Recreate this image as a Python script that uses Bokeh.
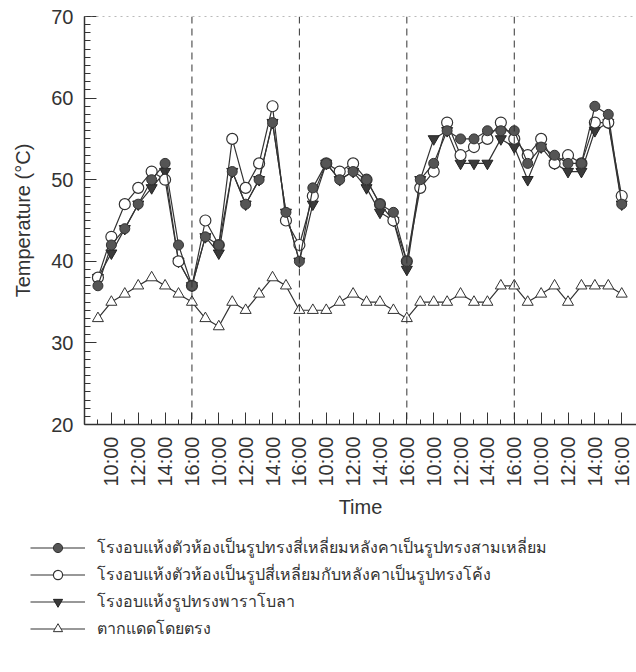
import numpy as np
from bokeh.plotting import figure
from bokeh.layouts import column
from bokeh.models import (FixedTicker, SingleIntervalTicker, Span, Legend,
                          LegendItem, Range1d)
from bokeh.embed import file_html
from bokeh.resources import INLINE

# ---------------- data ----------------
time_labels = ["9:00", "10:00", "11:00", "12:00", "13:00", "14:00", "15:00", "16:00"] * 5

# โรงอบแห้งตัวห้องเป็นรูปทรงสี่เหลี่ยมหลังคาเป็นรูปทรงสามเหลี่ยม (filled circles)
dryer_triangle_roof = [37, 42, 44, 47, 50, 52, 42, 37,
                       43, 42, 51, 47, 50, 57, 46, 40,
                       49, 52, 50, 51, 50, 47, 46, 40,
                       50, 52, 56, 55, 55, 56, 56, 56,
                       52, 54, 53, 52, 52, 59, 58, 47]
# โรงอบแห้งตัวห้องเป็นรูปสี่เหลี่ยมกับหลังคาเป็นรูปทรงโค้ง (open circles)
dryer_curved_roof = [38, 43, 47, 49, 51, 50, 40, 37,
                     45, 42, 55, 49, 52, 59, 45, 42,
                     48, 52, 51, 52, 50, 47, 45, 40,
                     49, 51, 57, 53, 54, 55, 57, 55,
                     53, 55, 52, 53, 52, 57, 57, 48]
# โรงอบแห้งรูปทรงพาราโบลา (filled down triangles)
dryer_parabola = [38, 41, 44, 47, 49, 51, 40, 37,
                  43, 41, 51, 47, 50, 57, 46, 40,
                  47, 52, 50, 51, 49, 46, 45, 39,
                  50, 55, 56, 52, 52, 52, 55, 54,
                  50, 54, 52, 51, 51, 56, 57, 47]
# ตากแดดโดยตรง (open up triangles)
direct_sun = [33, 35, 36, 37, 38, 37, 36, 35,
              33, 32, 35, 34, 36, 38, 37, 34,
              34, 34, 35, 36, 35, 35, 34, 33,
              35, 35, 35, 36, 35, 35, 37, 37,
              35, 36, 37, 35, 37, 37, 37, 36]

series_names = [
    "โรงอบแห้งตัวห้องเป็นรูปทรงสี่เหลี่ยมหลังคาเป็นรูปทรงสามเหลี่ยม",
    "โรงอบแห้งตัวห้องเป็นรูปสี่เหลี่ยมกับหลังคาเป็นรูปทรงโค้ง",
    "โรงอบแห้งรูปทรงพาราโบลา",
    "ตากแดดโดยตรง",
]

x_title = "Time"
y_title = "Temperature (°C)"
y_min, y_max = 20, 70

# ---------------- styles ----------------
x = list(range(len(time_labels)))
FONT = "Liberation Sans"
INK = "#333333"
line_kw = dict(line_color=INK, line_width=1.2)
marker_styles = [
    dict(marker="circle", size=10, fill_color="#555555", line_color="#333333", line_width=1),
    dict(marker="circle", size=11, fill_color="white", line_color=INK, line_width=1.2),
    dict(marker="inverted_triangle", size=11, fill_color="#3a3a3a", line_color="#222222", line_width=1),
    dict(marker="triangle", size=11, fill_color="white", line_color=INK, line_width=1),
]
all_series = [dryer_triangle_roof, dryer_curved_roof, dryer_parabola, direct_sun]

# ---------------- main figure ----------------
p = figure(width=636, height=520, output_backend="svg", toolbar_location=None,
           x_range=Range1d(-1, 40.1), y_range=Range1d(y_min, y_max),
           min_border_left=84, min_border_right=0, min_border_top=16,
           min_border_bottom=96)
p.frame_align = False
p.background_fill_color = "white"
p.border_fill_color = "white"
p.outline_line_color = None
p.xgrid.visible = False
p.ygrid.visible = False

# dotted top frame line
p.add_layout(Span(location=y_max, dimension="width", line_color="#777777",
                  line_width=1, line_dash="dotted"))

# day separators
day_ends = [i for i, t in enumerate(time_labels) if t == "16:00"][:-1]
for d in day_ends:
    p.add_layout(Span(location=d, dimension="height", line_color=INK,
                      line_width=1, line_dash="7 5"))

# draw order: direct sun, parabola, curved roof, triangle roof (top)
for k in [3, 2, 1, 0]:
    p.line(x, all_series[k], **line_kw)
    p.scatter(x, all_series[k], **marker_styles[k])

# axes
major_idx = [i for i, t in enumerate(time_labels) if int(t.split(":")[0]) % 2 == 0]
minor_idx = [i for i, t in enumerate(time_labels) if int(t.split(":")[0]) % 2 == 1]
p.xaxis.ticker = FixedTicker(ticks=major_idx, minor_ticks=minor_idx)
p.xaxis.major_label_overrides = {i: time_labels[i] for i in major_idx}
p.xaxis.major_label_orientation = np.pi / 2
p.yaxis.ticker = SingleIntervalTicker(interval=10, num_minor_ticks=10)

for ax in (p.xaxis[0], p.yaxis[0]):
    ax.axis_line_color = INK
    ax.axis_line_width = 1.5
    ax.major_tick_line_color = INK
    ax.minor_tick_line_color = INK
    ax.major_tick_out = 0
    ax.minor_tick_out = 0
    ax.major_label_text_font = FONT
    ax.major_label_text_font_size = "20px"
    ax.major_label_text_color = INK
    ax.axis_label_text_font = FONT
    ax.axis_label_text_font_size = "20px"
    ax.axis_label_text_font_style = "normal"
    ax.axis_label_text_color = INK

p.xaxis.major_tick_in = 12
p.xaxis.minor_tick_in = 5
p.yaxis.major_tick_in = 12
p.yaxis.minor_tick_in = 6
p.xaxis.major_label_standoff = 12
p.yaxis.major_label_standoff = 11
p.xaxis.axis_label = x_title
p.yaxis.axis_label = y_title
p.xaxis.axis_label_standoff = 6
p.yaxis.axis_label_standoff = 14

# ---------------- legend figure (below) ----------------
lf = figure(width=636, height=152, output_backend="svg", toolbar_location=None,
            x_axis_type=None, y_axis_type=None,
            x_range=Range1d(-1, 40.1), y_range=Range1d(y_min, y_max),
            min_border=0)
lf.frame_align = False
lf.outline_line_color = None
lf.xgrid.visible = False
lf.ygrid.visible = False

items = []
for k in range(4):
    rl = lf.line(x, all_series[k], visible=False, **line_kw)
    rs = lf.scatter(x, all_series[k], visible=False, **marker_styles[k])
    items.append(LegendItem(label=series_names[k], renderers=[rl, rs]))

legend = Legend(items=items, location=(30, 31), orientation="vertical",
                glyph_width=55, glyph_height=23, label_height=25, spacing=2,
                label_standoff=12, padding=0, margin=0, click_policy="none",
                border_line_color=None, background_fill_alpha=0,
                label_text_font=FONT, label_text_font_size="16px",
                label_text_color=INK)
lf.add_layout(legend)

layout = column(p, lf, spacing=0)
open("out.html", "w").write(file_html(layout, INLINE))
